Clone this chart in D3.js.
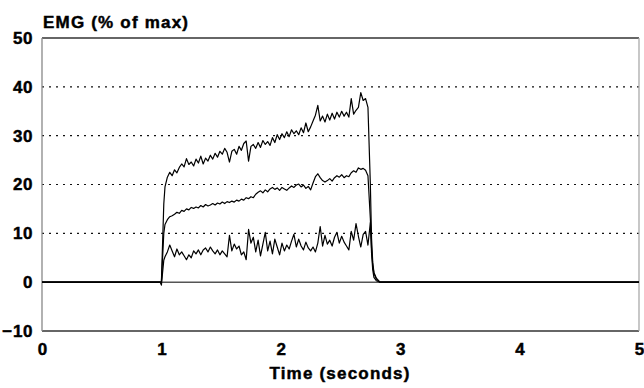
<!DOCTYPE html>
<html>
<head>
<meta charset="UTF-8">
<title>EMG (% of max)</title>
<script src="https://d3js.org/d3.v7.min.js"></script>
<style>
    body { margin: 0; background: #fff; }
    text { font-family: "Liberation Sans", Arial, sans-serif; font-weight: bold; fill: #000; stroke: #000; stroke-width: 0.45px; }
</style>
</head>
<body>
<div id="chart"></div>
<script>
// time axis (seconds), shared by the three traces
const time = [
    0, 0.99, 1.00, 1.01, 1.02, 1.03, 1.05, 1.07, 1.09, 1.11,
    1.13, 1.15, 1.17, 1.19, 1.21, 1.23, 1.25, 1.27, 1.29, 1.31,
    1.33, 1.35, 1.37, 1.39, 1.41, 1.43, 1.45, 1.47, 1.49, 1.51,
    1.53, 1.55, 1.57, 1.59, 1.61, 1.63, 1.65, 1.67, 1.69, 1.71,
    1.73, 1.75, 1.77, 1.79, 1.81, 1.83, 1.85, 1.87, 1.89, 1.91,
    1.93, 1.95, 1.97, 1.99, 2.01, 2.03, 2.05, 2.07, 2.09, 2.11,
    2.13, 2.15, 2.17, 2.19, 2.21, 2.23, 2.25, 2.27, 2.29, 2.31,
    2.33, 2.35, 2.37, 2.39, 2.41, 2.43, 2.45, 2.47, 2.49, 2.51,
    2.53, 2.55, 2.57, 2.59, 2.61, 2.63, 2.65, 2.67, 2.69, 2.71,
    2.73, 2.75, 2.76, 2.77, 2.78, 2.80, 2.83, 5
];

const emgHigh = [
    0, 0, 0, 8, 16, 19.5, 21.5, 22.5, 21.8, 23,
    22.4, 23.5, 24.2, 23.6, 25.3, 24.1, 24.6, 23.8, 25.2, 24.4,
    25.8, 24.2, 25.4, 24.8, 26, 25.2, 26.4, 25.6, 26.8, 26.2,
    27.4, 26.6, 24.6, 26.8, 27.2, 26.2, 27.8, 27, 28.4, 28.9,
    24.8, 27.8, 28.2, 27.4, 28.6, 27.6, 29, 28.2, 28.8, 28,
    29.6, 28.6, 30.2, 29.2, 30.4, 29.6, 30.8, 29.8, 31.2, 30.4,
    31, 30.2, 31.6, 30.6, 32.6, 30.8, 31.8, 33, 34.2, 36.2,
    33, 34, 32.8, 34.4, 33.2, 34.6, 33.4, 34.8, 33.8, 35,
    34, 34.8, 33.8, 37.6, 34.4, 35.2, 35.8, 38.8, 37.2, 37.6,
    35.8, 20, 9, 4, 2, 0.8, 0, 0
];

const emgMid = [
    0, 0, 0, 5, 10, 11.8, 12.8, 13.4, 13.6, 13.9,
    14.3, 14.1, 14.7, 14.5, 15, 14.8, 15.3, 15.1, 15.4, 15.2,
    15.7, 15.4, 15.9, 15.6, 15.8, 16.1, 15.8, 16.2, 16, 16.4,
    16.1, 16.5, 16.3, 16.6, 16.4, 16.8, 16.6, 17, 16.8, 17.3,
    17.1, 17.5, 17.3, 18, 18.4, 18.7, 18.3, 18.9, 18.5, 19.1,
    19.4, 19, 19.3, 18.8, 19.4, 19.1, 18.8, 19.3, 19.7, 19.4,
    19.9, 20.1, 19.5, 19.9, 19.2, 19.6, 18.9, 20.3, 21.6, 22.2,
    21.4, 20.8, 20.5, 20.8, 21.2, 20.7, 21.4, 21.8, 21.5, 22,
    21.4, 21.8, 21.6, 22.4, 22.8, 22.5, 23.4, 23.1, 23.3, 22.9,
    21.8, 13, 7, 3.5, 1.8, 0.7, 0, 0
];

const emgLow = [
    0, 0, -0.6, 2, 4.5, 5.2, 6.2, 7.6, 6.4, 5.2,
    6.8, 5.6, 6.2, 5.4, 4.6, 5.6, 5, 6.4, 5.8, 6.6,
    5.6, 6.6, 7, 6.2, 7.2, 6.4, 5.8, 6.6, 5.6, 6.4,
    5.8, 5.2, 9.6, 6.4, 7.8, 6.8, 7.4, 5.6, 6.2, 4.6,
    10.8, 8, 9.2, 6.2, 8.6, 5.4, 7.8, 10.2, 6.4, 8.4,
    5.8, 8.8, 7.2, 5.6, 8, 6.4, 7.6, 6.8, 8.4, 9.8,
    7.2, 8.8, 7.4, 6.6, 8.2, 7, 6.4, 7.2, 6.2, 8,
    11.4, 7.4, 9.6, 7.8, 8.6, 7.4, 9.2, 10.2, 8, 9.4,
    8.2, 7.4, 6.6, 10.4, 8.6, 12, 9.4, 7.2, 9.8, 10.4,
    7.6, 12.2, 6, 2.5, 1, 0.3, 0, 0
];

const yTicks = [-10, 0, 10, 20, 30, 40, 50];
const xTicks = [0, 1, 2, 3, 4, 5];
const gridValues = [10, 20, 30, 40];

const margin = { top: 38, right: 5, bottom: 57, left: 42 };
const width = 644 - margin.left - margin.right;
const height = 388 - margin.top - margin.bottom;

const svg = d3.select("#chart").append("svg")
    .attr("width", 644)
    .attr("height", 388);

const g = svg.append("g")
    .attr("transform", `translate(${margin.left},${margin.top})`);

const x = d3.scaleLinear().domain([0, 5]).range([0, width]);
const y = d3.scaleLinear().domain([-10, 50]).range([height, 0]);

// dotted gridlines
g.selectAll(".grid")
    .data(gridValues)
    .enter().append("line")
    .attr("x1", 0).attr("x2", width)
    .attr("y1", d => y(d)).attr("y2", d => y(d))
    .attr("stroke", "#111")
    .attr("stroke-width", 1.2)
    .attr("stroke-dasharray", "2,5");

// zero line
g.append("line")
    .attr("x1", 0).attr("x2", width)
    .attr("y1", y(0)).attr("y2", y(0))
    .attr("stroke", "#555")
    .attr("stroke-width", 1.5);

// frame
g.append("line").attr("x1", 0).attr("x2", width).attr("y1", y(50)).attr("y2", y(50))
    .attr("stroke", "#333").attr("stroke-width", 1.3);
g.append("line").attr("x1", 0).attr("x2", width).attr("y1", y(-10)).attr("y2", y(-10))
    .attr("stroke", "#333").attr("stroke-width", 1.3);
g.append("line").attr("x1", 0).attr("x2", 0).attr("y1", y(50)).attr("y2", y(-10))
    .attr("stroke", "#888").attr("stroke-width", 1.3);
g.append("line").attr("x1", width).attr("x2", width).attr("y1", y(50)).attr("y2", y(-10))
    .attr("stroke", "#aaa").attr("stroke-width", 1.3);

// axes (labels only, no tick marks)
const yAxis = g.append("g")
    .call(d3.axisLeft(y).tickValues(yTicks).tickSize(0).tickPadding(9));
yAxis.select(".domain").remove();
yAxis.selectAll("text")
    .style("font-size", "17px")
    .style("letter-spacing", "0.6px")
    .style("font-family", "'Liberation Sans', Arial, sans-serif")
    .style("font-weight", "bold")
    .attr("fill", "#000");

const xAxis = g.append("g")
    .attr("transform", `translate(0,${height})`)
    .call(d3.axisBottom(x).tickValues(xTicks).tickFormat(d3.format("d")).tickSize(0).tickPadding(12));
xAxis.select(".domain").remove();
xAxis.selectAll("text")
    .style("font-size", "17px")
    .style("font-family", "'Liberation Sans', Arial, sans-serif")
    .style("font-weight", "bold")
    .attr("fill", "#000");

// traces
const line = d3.line()
    .x((d, i) => x(time[i]))
    .y(d => y(d));

[emgLow, emgMid, emgHigh].forEach(series => {
    g.append("path")
        .datum(series)
        .attr("fill", "none")
        .attr("stroke", "#000")
        .attr("stroke-width", 1.2)
        .attr("stroke-linejoin", "round")
        .attr("d", line);
});

// titles
svg.append("text")
    .attr("x", 43)
    .attr("y", 28)
    .style("font-size", "17px")
    .style("letter-spacing", "1.2px")
    .text("EMG (% of max)");

svg.append("text")
    .attr("x", 340)
    .attr("y", 379)
    .attr("text-anchor", "middle")
    .style("font-size", "17px")
    .style("letter-spacing", "1.2px")
    .text("Time (seconds)");
</script>
</body>
</html>
